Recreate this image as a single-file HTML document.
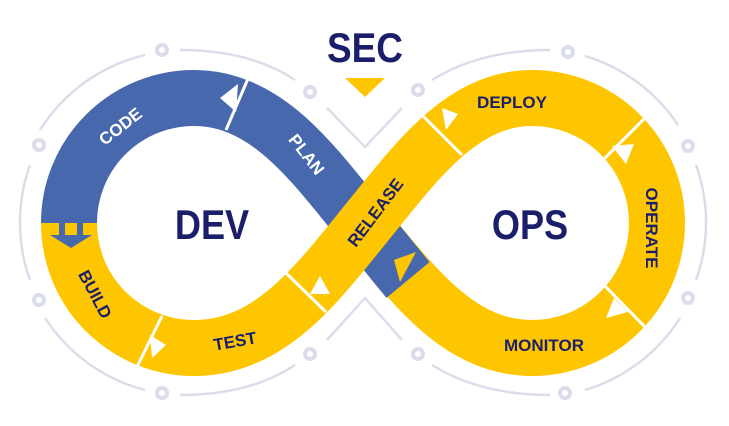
<!DOCTYPE html>
<html><head><meta charset="utf-8"><style>
html,body{margin:0;padding:0;background:#fff;}
svg{display:block}
text{font-family:"Liberation Sans",sans-serif;font-weight:bold;}
</style></head><body>
<svg width="729" height="426" viewBox="0 0 729 426" xmlns="http://www.w3.org/2000/svg">
<g fill="none" stroke="#DCDDEA" stroke-width="2.5">
<path d="M145 55 A170 170 0 0 0 40 130"/>
<path d="M30 165 A170 170 0 0 0 30 280"/>
<path d="M45 318 A170 170 0 0 0 145 390"/>
<path d="M180 395 Q 250 395 295 365"/>
<path d="M180 50 Q 250 50 295 80"/>
<path d="M327 108 L365 147 L402 108"/>
<path d="M327 340 L365 298 L402 340"/>
<path d="M432 80 Q 480 50 550 50"/>
<path d="M585 56 A170 170 0 0 1 678 125"/>
<path d="M696 165 A170 170 0 0 1 696 280"/>
<path d="M680 318 A170 170 0 0 1 585 390"/>
<path d="M432 365 Q 480 395 550 395"/>
</g>
<g fill="#fff" stroke="#DCDDEA" stroke-width="4">
<circle cx="162" cy="50" r="5"/><circle cx="39" cy="145" r="5"/><circle cx="39" cy="300" r="5"/>
<circle cx="162" cy="393" r="5"/><circle cx="310" cy="92" r="5"/><circle cx="310" cy="354" r="5"/>
<circle cx="418" cy="90" r="5"/><circle cx="418" cy="354" r="5"/><circle cx="568" cy="52" r="5"/>
<circle cx="688" cy="146" r="5"/><circle cx="688" cy="298" r="5"/><circle cx="565" cy="393" r="5"/>
</g>
<g fill="none" stroke-width="56" stroke-linecap="butt">
<path d="M532 348 C460 348 416 288 364 226" stroke="#FEC601"/>
<path d="M408 280 C393 262 379 244 364 226 C314 165 268 98 194 98 A125 125 0 0 0 69 223" stroke="#4868AE"/>
<path d="M69 223 A125 125 0 0 0 194 348 C268 348 314 288 364 226 C414 165 460 98 532 98 A125 125 0 0 1 532 348" stroke="#FEC601"/>
</g>
<g stroke="#fff" stroke-width="3">
<line x1="250" y1="74" x2="226" y2="130"/>
<line x1="132" y1="377" x2="162" y2="316"/>
<line x1="285" y1="272" x2="326" y2="312"/>
<line x1="422" y1="115" x2="462" y2="155"/>
<line x1="645" y1="118" x2="603" y2="160"/>
<line x1="602" y1="283" x2="645" y2="327"/>
</g>
<g fill="#fff">
<polygon points="220,98 238,84 236,112"/>
<polygon points="166,345 150,335 152,358"/>
<polygon points="320,276 310,294 330,294"/>
<polygon points="458,114 442,108 446,130"/>
<polygon points="612,146 634,144 626,164"/>
<polygon points="606,318 614,298 628,312"/>
</g>
<polygon points="50,235 71,248 92,235" fill="#4868AE"/>
<rect x="59" y="222" width="6" height="14" fill="#4868AE"/><rect x="77" y="222" width="6" height="14" fill="#4868AE"/>
<polygon points="394,260 416,252 400,282" fill="#FEC601"/>
<text x="365" y="62" font-size="42" fill="#1B1F6B" text-anchor="middle" transform="translate(365 0) scale(0.88 1) translate(-365 0)">SEC</text>
<polygon points="345,78 385,78 365,97" fill="#FEC601"/>
<text x="212" y="239" font-size="42" fill="#1B1F6B" text-anchor="middle" transform="translate(212 0) scale(0.86 1) translate(-212 0)">DEV</text>
<text x="530" y="239" font-size="42" fill="#1B1F6B" text-anchor="middle" transform="translate(530 0) scale(0.86 1) translate(-530 0)">OPS</text>
<g font-size="17" text-anchor="middle">
<text fill="#fff" transform="translate(124 131) rotate(-38)">CODE</text>
<text fill="#fff" transform="translate(302 158) rotate(52)">PLAN</text>
<text fill="#1B1F6B" transform="translate(90 297) rotate(62)">BUILD</text>
<text fill="#1B1F6B" transform="translate(236 347) rotate(-10)">TEST</text>
<text fill="#1B1F6B" transform="translate(380 216) rotate(-53)">RELEASE</text>
<text fill="#1B1F6B" x="512" y="108">DEPLOY</text>
<text fill="#1B1F6B" transform="translate(646 228) rotate(90)">OPERATE</text>
<text fill="#1B1F6B" x="544" y="351">MONITOR</text>
</g>
</svg>
</body></html>
